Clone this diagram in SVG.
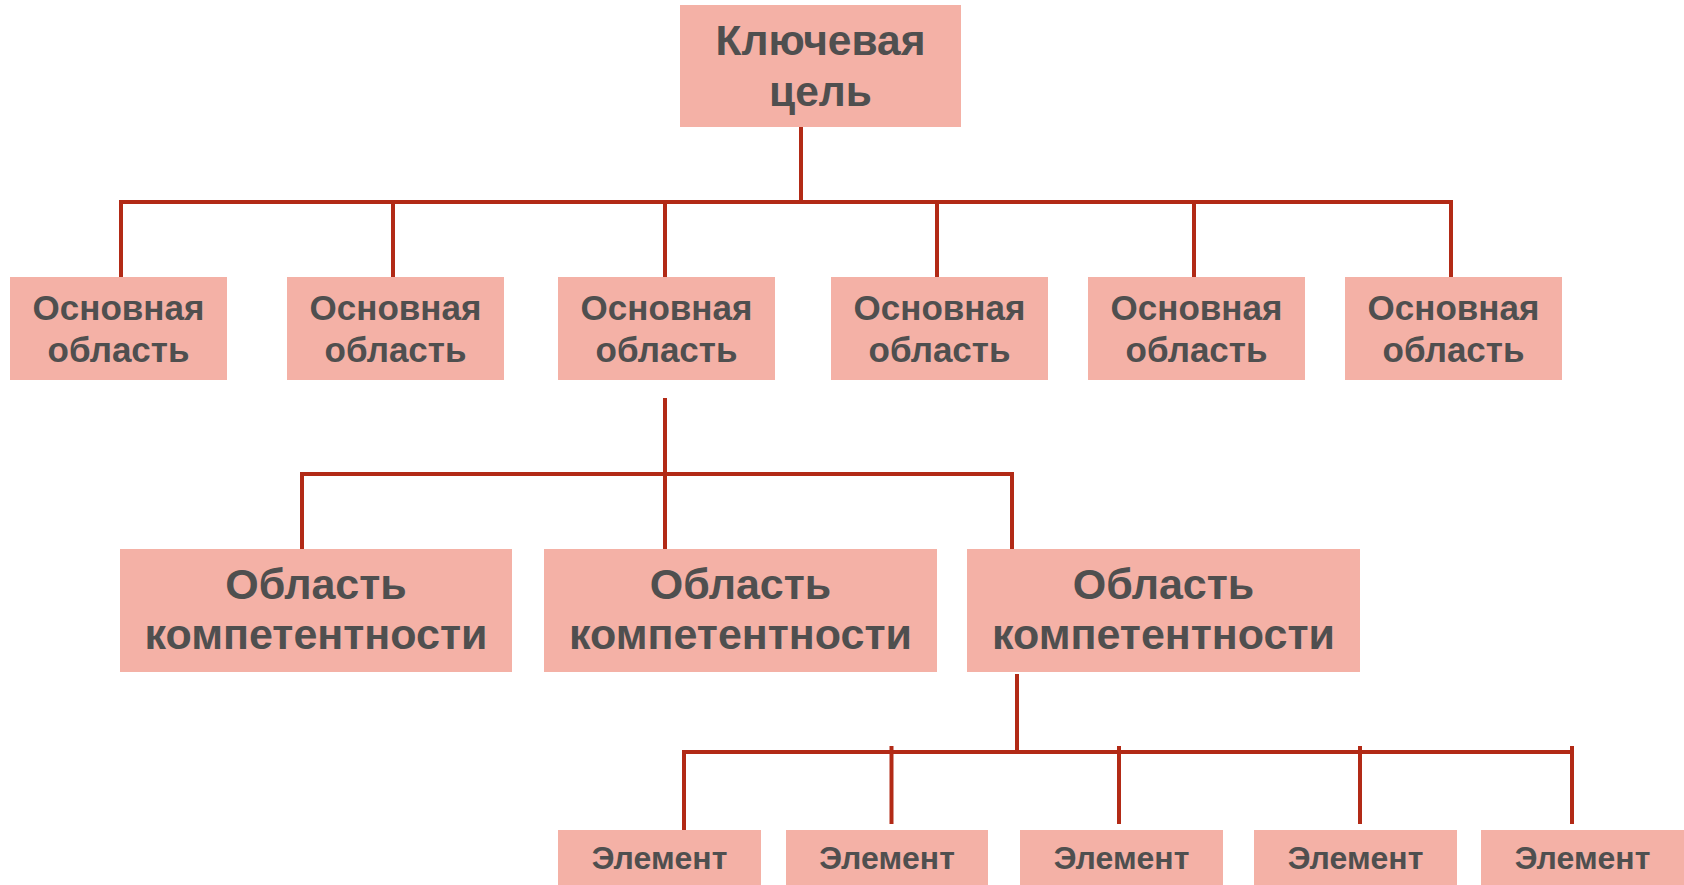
<svg xmlns="http://www.w3.org/2000/svg" width="1684" height="885" viewBox="0 0 1684 885">
<style>
.box{fill:#F4B1A6}
.t{font-family:"Liberation Sans",Arial,sans-serif;font-weight:bold;fill:#4F4F4F;text-anchor:middle}
.l{stroke:#B22A16;stroke-width:4;fill:none;stroke-linejoin:miter}
</style>
<rect width="1684" height="885" fill="#FFFFFF"/>
<g id="connectors" class="l">
<line x1="801" y1="127" x2="801" y2="202"/>
<polyline points="121,277 121,202 1451,202 1451,277"/>
<line x1="393" y1="202" x2="393" y2="277"/>
<line x1="665" y1="202" x2="665" y2="277"/>
<line x1="937" y1="202" x2="937" y2="277"/>
<line x1="1194" y1="202" x2="1194" y2="277"/>
<line x1="665" y1="398" x2="665" y2="549"/>
<polyline points="302,549 302,474 1012,474 1012,549"/>
<line x1="1017" y1="674" x2="1017" y2="752"/>
<polyline points="684,830 684,752 1572,752"/>
<line x1="891.5" y1="746" x2="891.5" y2="824"/>
<line x1="1119" y1="746" x2="1119" y2="824"/>
<line x1="1360" y1="746" x2="1360" y2="824"/>
<line x1="1572" y1="746" x2="1572" y2="824"/>
</g>
<g id="goal"><rect class="box" x="680" y="5" width="281" height="122"/>
<text class="t" font-size="42.5" x="820.5" y="55">Ключевая</text>
<text class="t" font-size="42.5" x="820.5" y="106">цель</text></g>
<g id="main1"><rect class="box" x="10" y="277" width="217" height="103"/>
<text class="t" font-size="35" x="118.5" y="320">Основная</text><text class="t" font-size="35" x="118.5" y="362">область</text></g>
<g id="main2"><rect class="box" x="287" y="277" width="217" height="103"/>
<text class="t" font-size="35" x="395.5" y="320">Основная</text><text class="t" font-size="35" x="395.5" y="362">область</text></g>
<g id="main3"><rect class="box" x="558" y="277" width="217" height="103"/>
<text class="t" font-size="35" x="666.5" y="320">Основная</text><text class="t" font-size="35" x="666.5" y="362">область</text></g>
<g id="main4"><rect class="box" x="831" y="277" width="217" height="103"/>
<text class="t" font-size="35" x="939.5" y="320">Основная</text><text class="t" font-size="35" x="939.5" y="362">область</text></g>
<g id="main5"><rect class="box" x="1088" y="277" width="217" height="103"/>
<text class="t" font-size="35" x="1196.5" y="320">Основная</text><text class="t" font-size="35" x="1196.5" y="362">область</text></g>
<g id="main6"><rect class="box" x="1345" y="277" width="217" height="103"/>
<text class="t" font-size="35" x="1453.5" y="320">Основная</text><text class="t" font-size="35" x="1453.5" y="362">область</text></g>
<g id="comp1"><rect class="box" x="120" y="549" width="392" height="123"/>
<text class="t" font-size="43" x="316" y="599">Область</text><text class="t" font-size="43" x="316" y="649">компетентности</text></g>
<g id="comp2"><rect class="box" x="544" y="549" width="393" height="123"/>
<text class="t" font-size="43" x="740.5" y="599">Область</text><text class="t" font-size="43" x="740.5" y="649">компетентности</text></g>
<g id="comp3"><rect class="box" x="967" y="549" width="393" height="123"/>
<text class="t" font-size="43" x="1163.5" y="599">Область</text><text class="t" font-size="43" x="1163.5" y="649">компетентности</text></g>
<g id="el1"><rect class="box" x="558" y="830" width="203" height="55"/><text class="t" font-size="32" x="659.5" y="869">Элемент</text></g>
<g id="el2"><rect class="box" x="786" y="830" width="202" height="55"/><text class="t" font-size="32" x="887" y="869">Элемент</text></g>
<g id="el3"><rect class="box" x="1020" y="830" width="203" height="55"/><text class="t" font-size="32" x="1121.5" y="869">Элемент</text></g>
<g id="el4"><rect class="box" x="1254" y="830" width="203" height="55"/><text class="t" font-size="32" x="1355.5" y="869">Элемент</text></g>
<g id="el5"><rect class="box" x="1481" y="830" width="203" height="55"/><text class="t" font-size="32" x="1582.5" y="869">Элемент</text></g>
</svg>
